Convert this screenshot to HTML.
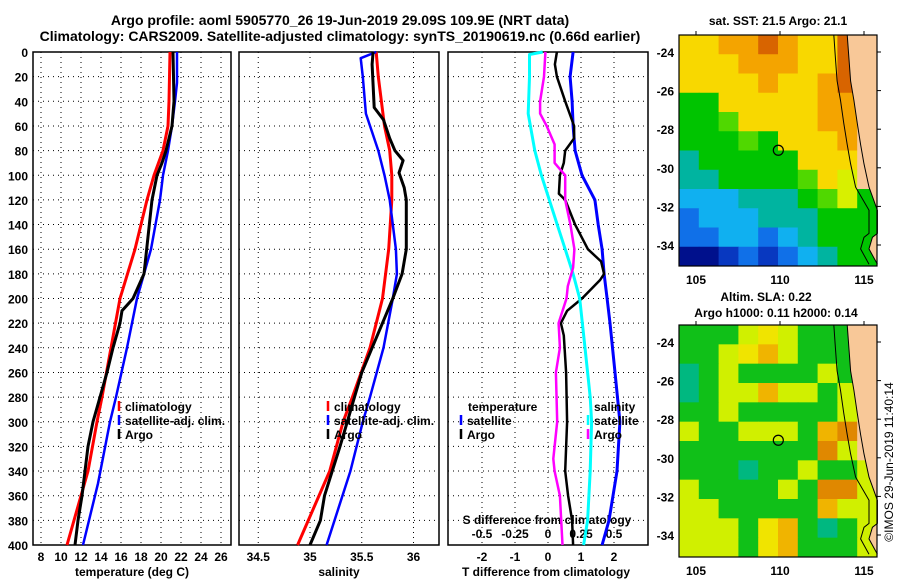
<!DOCTYPE html>
<html><head><meta charset="utf-8">
<style>
html,body{margin:0;padding:0;background:#fff;}
svg{display:block;font-family:"Liberation Sans",sans-serif;font-weight:bold;}
</style></head>
<body>
<svg id="c" width="900" height="580" viewBox="0 0 900 580">
<text x="340" y="25" font-size="14" text-anchor="middle">Argo profile: aoml 5905770_26 19-Jun-2019 29.09S 109.9E (NRT data)</text>
<text x="340" y="41" font-size="14" text-anchor="middle">Climatology: CARS2009. Satellite-adjusted climatology: synTS_20190619.nc (0.66d earlier)</text>
<g id="g"></g>
</svg>
<script>
// ---- data ----
const tClimP = [0,20,40,60,80,100,120,160,200,240,280,300,340,400];
const tClimV = [20.9,20.85,20.8,20.7,20.2,19.3,18.6,17.4,15.9,15.0,14.1,13.6,12.7,10.6];
const tSatP = [0,25,40,60,80,100,120,160,200,240,280,300,350,400];
const tSatV = [21.6,21.6,21.4,21.1,20.7,20.2,19.9,19.0,17.6,16.6,15.5,14.9,13.7,12.2];
const tArgoP = [0,40,60,80,90,100,120,180,200,210,220,240,260,280,300,320,340,360,380,400];
const tArgoV = [21.2,21.3,21.1,20.5,20.1,19.6,19.1,18.3,17.2,16.1,15.9,15.2,14.6,13.9,13.2,12.7,12.4,12.1,11.7,11.4];
const sClimP = [0,20,60,80,100,120,160,200,240,280,300,340,400];
const sClimV = [35.64,35.66,35.72,35.77,35.79,35.79,35.76,35.70,35.58,35.41,35.32,35.19,34.88];
const sSatP = [0,5,20,50,80,100,120,160,180,200,240,280,300,340,400];
const sSatV = [35.64,35.49,35.51,35.54,35.66,35.72,35.77,35.83,35.84,35.80,35.71,35.58,35.51,35.39,35.16];
const sArgoP = [0,10,45,55,70,80,88,98,110,120,160,180,200,220,240,260,280,300,320,360,380,400];
const sArgoV = [35.61,35.60,35.62,35.71,35.77,35.82,35.90,35.86,35.91,35.93,35.93,35.89,35.80,35.70,35.60,35.50,35.43,35.36,35.29,35.14,35.10,35.0];
const dTSatP = [0,20,40,60,80,100,120,140,160,180,200,220,260,300,340,380,400];
const dTSatV = [0.76,0.67,0.73,0.76,0.82,1.03,1.42,1.52,1.64,1.70,1.79,1.88,2.03,2.18,2.09,1.85,1.64];
const dTArgoP = [0,10,20,40,60,70,80,90,100,115,120,140,160,170,180,185,200,210,220,230,260,300,340,360,380,400];
const dTArgoV = [0.27,0.21,0.27,0.52,0.79,0.79,0.52,0.48,0.36,0.33,0.52,0.82,1.21,1.61,1.70,1.58,1.03,0.58,0.39,0.48,0.55,0.58,0.52,0.61,0.73,0.76];
const dSSatP = [0,2,20,50,80,100,120,140,160,180,200,240,280,300,340,380,400];
const dSSatV = [-0.04,-0.14,-0.14,-0.15,-0.10,-0.05,0.01,0.07,0.13,0.19,0.24,0.28,0.32,0.33,0.32,0.30,0.27];
const dSArgoP = [0,20,40,50,60,75,90,100,120,140,160,175,190,200,220,240,260,300,330,340,360,400];
const dSArgoV = [-0.02,-0.03,-0.06,-0.06,-0.01,0.05,0.05,0.13,0.13,0.17,0.20,0.19,0.15,0.14,0.08,0.09,0.06,0.07,0.04,0.05,0.09,0.11];
const depthTicks = [0,20,40,60,80,100,120,140,160,180,200,220,240,260,280,300,320,340,360,380,400];
const tTicks = [8,10,12,14,16,18,20,22,24,26];
const sTicks = [34.5,35,35.5,36];
const dTTicks = [-2,-1,0,1,2];
const dSTicks = [-0.5,-0.25,0,0.25,0.5];
const latTicks = [-24,-26,-28,-30,-32,-34];
const lonTicks = [105,110,115];
const argoLon = 109.9, argoLat = -29.09;

// ---- helpers ----
const NS="http://www.w3.org/2000/svg";
const G=document.getElementById('g');
function mk(tag,at,parent){const e=document.createElementNS(NS,tag);for(const k in at)e.setAttribute(k,at[k]);(parent||G).appendChild(e);return e;}
const PY0=52,PY1=545;
const yP=p=>PY0+p*(PY1-PY0)/400;
const xT=t=>41+(t-8)*10;
const xS=s=>310+(s-35)*103.5;
const xDT=d=>548+d*33;
const xDS=d=>548+d*132;

function panel(x0,x1,name){
  const r=mk('rect',{x:x0,y:PY0,width:x1-x0,height:PY1-PY0,fill:'none',stroke:'#000','stroke-width':1.5});
  
  
  depthTicks.forEach(p=>{
    if(p>0&&p<400){const l=mk('line',{x1:x0,x2:x1,y1:yP(p),y2:yP(p),stroke:'#000','stroke-dasharray':'1,4'});
    
    }
  });
}
function vgrid(xs,x0,x1){xs.forEach(x=>{if(x>x0+1&&x<x1-1){const l=mk('line',{x1:x,x2:x,y1:PY0,y2:PY1,stroke:'#000','stroke-dasharray':'1,4'});
  
  }});}
function xlabels(vals,fx,name){vals.forEach(v=>{const t=mk('text',{x:fx(v),y:561,'font-size':12,'text-anchor':'middle'});t.textContent=String(v);
  
  });}
function line(P,V,fx,color,name,w){
  const pts=P.map((p,i)=>fx(V[i]).toFixed(1)+','+yP(p).toFixed(1)).join(' ');
  const l=mk('polyline',{points:pts,fill:'none',stroke:color,'stroke-width':w||3,'stroke-linejoin':'round'});
  
  
}
function label(x,y,txt,name,anchor,size){const t=mk('text',{x:x,y:y,'font-size':size||12,'text-anchor':anchor||'start'});t.textContent=txt;
  
  return t;}
function legend(x,y,color,txt,name){
  const l=mk('line',{x1:x,x2:x,y1:y-10,y2:y,stroke:color,'stroke-width':2.5});
  
  
  label(x+6,y,txt,name);
}

// panel 1: temperature
panel(33,231,'temperature-panel');
vgrid(tTicks.map(xT),33,231);
depthTicks.forEach(p=>label(28,yP(p)+5,String(p),'depth-tick-label','end'));
xlabels(tTicks,xT,'temperature-tick-label');
label(132,576,'temperature (deg C)','temperature-axis-title','middle');
line(tClimP,tClimV,xT,'#f00','temperature-climatology-line');
line(tSatP,tSatV,xT,'#00f','temperature-satellite-line',2.5);
line(tArgoP,tArgoV,xT,'#000','temperature-argo-line');
legend(119,411,'#f00','climatology','legend-climatology');
legend(119,425,'#00f','satellite-adj. clim.','legend-satellite-adj');
legend(119,439,'#000','Argo','legend-argo');

// panel 2: salinity
panel(239,439,'salinity-panel');
vgrid(sTicks.map(xS),239,439);
xlabels(sTicks,xS,'salinity-tick-label');
label(339,576,'salinity','salinity-axis-title','middle');
line(sClimP,sClimV,xS,'#f00','salinity-climatology-line');
line(sSatP,sSatV,xS,'#00f','salinity-satellite-line',2.5);
line(sArgoP,sArgoV,xS,'#000','salinity-argo-line');
legend(328,411,'#f00','climatology','legend-climatology-2');
legend(328,425,'#00f','satellite-adj. clim.','legend-satellite-adj-2');
legend(328,439,'#000','Argo','legend-argo-2');

// panel 3: differences
panel(448,648,'difference-panel');
vgrid(dTTicks.map(xDT),448,648);
xlabels(dTTicks,xDT,'t-diff-tick-label');
label(546,576,'T difference from climatology','t-diff-axis-title','middle');
label(547,524,'S difference from climatology','s-diff-axis-title','middle');
dSTicks.forEach(v=>label(xDS(v),538,String(v),'s-diff-tick-label','middle'));
line(dTSatP,dTSatV,xDT,'#00f','t-diff-satellite-line');
line(dTArgoP,dTArgoV,xDT,'#000','t-diff-argo-line',2.5);
line(dSSatP,dSSatV,xDS,'#0ff','s-diff-satellite-line');
line(dSArgoP,dSArgoV,xDS,'#f0f','s-diff-argo-line',2.5);
label(468,411,'temperature','legend-temperature-heading');
legend(461,425,'#00f','satellite','legend-t-satellite');
legend(461,439,'#000','Argo','legend-t-argo');
label(594,411,'salinity','legend-salinity-heading');
legend(588,425,'#0ff','satellite','legend-s-satellite');
legend(588,439,'#f0f','Argo','legend-s-argo');

// ---- maps ----
const MX0=679,MX1=877;
const lonX=l=>696+(l-105)*16.8;
const C1={O:'#d86400',o:'#f4a400',y:'#f8d800',Y:'#d8f000',g:'#50d800',G:'#00c400',t:'#00b4a0',c:'#10b0f0',b:'#1070e8',B:'#0838c0',n:'#00108c',L:'#f8c898'};
const sstGrid=["yyooOoyyOL","yyyoooyyOL","yyyyoyyoOL","GGyyyyyooL","GGgyyyyooL","GGGgGyyyoL","tGGGGGyyyL","ttGGGGgyYL","ccctttGgYG","bccctttGGG","bbccbctGGG","nnBbBbctGG"];
const C2={G:'#10c018',g:'#60d820',Y:'#d0f000',y:'#f0e400',o:'#f0b400',O:'#e08800',t:'#00b880',L:'#f8c898'};
const slaGrid=["GGGYyYGGGL","GGYyoYGGGL","tGYGGGGYGL","tGYYoYYGYL","GGYGGGGGYL","YGGYYYGoOL","GGGGGGGOYL","GGGtGGYGGY","YGGGGYGOOY","YYGGGGGoYY","YYYGyoGtGY","YYYGyoGGGY"];
function map(y0,y1,lat24,lat34,grid,cols,name){
  const latY=l=>lat24+(l+24)*(lat34-lat24)/(-10);
  const g=mk('g',{});
  
  
  const nr=grid.length,nc=grid[0].length,cw=(MX1-MX0)/nc,rh=(y1-y0)/nr;
  grid.forEach((row,r)=>{for(let c=0;c<nc;c++){mk('rect',{x:MX0+c*cw,y:y0+r*rh,width:cw+0.5,height:rh+0.5,fill:cols[row[c]]},g);}});
  const coast=[[114.0,-23.1],[114.1,-24.3],[114.2,-25.5],[114.4,-26.5],[114.6,-27.7],[114.8,-28.8],[115.0,-29.8],[115.3,-31.0],[115.8,-32.2],[115.8,-33.4],[115.5,-33.6],[115.3,-34.2],[115.8,-35.0]];
  const pts=coast.map(p=>lonX(p[0]).toFixed(1)+','+latY(p[1]).toFixed(1));
  const land=mk('polygon',{points:pts.join(' ')+' '+MX1+','+y1+' '+MX1+','+y0,fill:'#f8c898'},g);
  
  
  mk('polyline',{points:pts.join(' '),fill:'none',stroke:'#000','stroke-width':1},g);
  const iso=coast.map(p=>lonX(p[0]-0.8+(p[1]<-31?0.3:0)).toFixed(1)+','+latY(p[1]).toFixed(1)).join(' ');
  const isoL=mk('polyline',{points:iso,fill:'none',stroke:'#000','stroke-width':1},g);
  
  
  const ci=mk('circle',{cx:lonX(argoLon),cy:latY(argoLat),r:5,fill:'none',stroke:'#000','stroke-width':1.2},g);
  
  
  const fr=mk('rect',{x:MX0,y:y0,width:MX1-MX0,height:y1-y0,fill:'none',stroke:'#000','stroke-width':1.2},g);
  
  
  latTicks.forEach(l=>{const y=latY(l);mk('line',{x1:MX1,x2:MX1+4,y1:y,y2:y,stroke:'#000'});
    label(674,y+5,String(l),'latitude-tick-label','end');});
  lonTicks.forEach(l=>{const x=lonX(l);mk('line',{x1:x,x2:x,y1:y0,y2:y0-4,stroke:'#000'});
    label(x,y1+18,String(l),'longitude-tick-label','middle');});
}
map(35,266,52,245,sstGrid,C1,'sst-map');
label(778,25,'sat. SST: 21.5 Argo: 21.1','sst-map-title','middle');
map(325,557,342,535,slaGrid,C2,'sla-map');
label(766,301,'Altim. SLA: 0.22','sla-map-title','middle');
label(776,317,'Argo h1000: 0.11 h2000: 0.14','sla-map-subtitle','middle');
const cr=label(0,0,'©IMOS 29-Jun-2019 11:40:14','credit-timestamp','middle');
cr.setAttribute('font-weight','normal');
cr.setAttribute('transform','translate(893,462) rotate(-90)');
</script>
</body></html>
